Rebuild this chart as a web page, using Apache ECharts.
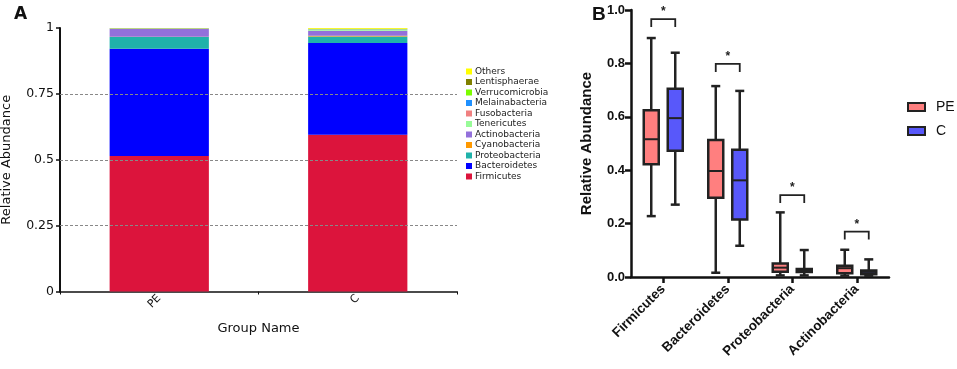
<!DOCTYPE html>
<html>
<head>
<meta charset="utf-8">
<script src="https://cdn.jsdelivr.net/npm/echarts@6/dist/echarts.min.js"></script>
<style>
  html, body { margin: 0; padding: 0; background: #fff; }
  #chart { width: 957px; height: 369px; }
</style>
</head>
<body>
<div id="chart"></div>
<script>
// ---- panel A: stacked relative abundance ----
var groups = ['PE', 'C'];
var phyla = ['Firmicutes', 'Bacteroidetes', 'Proteobacteria', 'Cyanobacteria', 'Actinobacteria',
  'Tenericutes', 'Fusobacteria', 'Melainabacteria', 'Verrucomicrobia', 'Lentisphaerae', 'Others'];
var phylaColors = ['#DC143C', '#0000FF', '#20B2AA', '#FF9900', '#9370DB',
  '#98FB98', '#F08080', '#1E90FF', '#7CFC00', '#808000', '#FFFF00'];
// rows follow phyla order, columns follow groups
var abundPE = [0.514, 0.407, 0.045, 0.001, 0.029, 0.001, 0.0005, 0.0005, 0.0005, 0.0005, 0.001];
var abundC = [0.595, 0.348, 0.025, 0.003, 0.019, 0.003, 0.001, 0.001, 0.001, 0.001, 0.003];
var gridLinesA = [0.25, 0.5, 0.75];

// ---- panel B: box plots ----
var boxCats = ['Firmicutes', 'Bacteroidetes', 'Proteobacteria', 'Actinobacteria'];
// [min, q1, median, q3, max]
var boxPE = [
  [0.228, 0.422, 0.516, 0.625, 0.895],
  [0.016, 0.297, 0.397, 0.513, 0.715],
  [0.006, 0.020, 0.035, 0.051, 0.242],
  [0.005, 0.014, 0.033, 0.042, 0.102]
];
var boxC = [
  [0.271, 0.473, 0.595, 0.705, 0.840],
  [0.117, 0.215, 0.362, 0.477, 0.697],
  [0.006, 0.019, 0.025, 0.030, 0.101],
  [0.004, 0.010, 0.019, 0.024, 0.066]
];
var sigLevel = [0.966, 0.798, 0.307, 0.170];
var sigMark = ['*', '*', '*', '*'];

var chart = echarts.init(document.getElementById('chart'));

var fontA = 'DejaVu Sans, Verdana, sans-serif';
var fontB = 'Liberation Sans, Arial, sans-serif';
var dark = '#222';
var OFF = 12;   // box offset from category centre, px
var BOXW = 15;  // box width, px
var CAPW = 9;   // whisker cap width, px

function boxRenderer(offset, fill) {
  return function (params, api) {
    var idx = api.value(0);
    var cx = api.coord([idx, 0])[0] + offset;
    var y = [1, 2, 3, 4, 5].map(function (d) { return api.coord([idx, api.value(d)])[1]; });
    var ls = { stroke: dark, lineWidth: 2.5 };
    return {
      type: 'group',
      children: [
        { type: 'line', shape: { x1: cx, y1: y[4], x2: cx, y2: y[0] }, style: ls },
        { type: 'line', shape: { x1: cx - CAPW / 2, y1: y[4], x2: cx + CAPW / 2, y2: y[4] }, style: ls },
        { type: 'line', shape: { x1: cx - CAPW / 2, y1: y[0], x2: cx + CAPW / 2, y2: y[0] }, style: ls },
        { type: 'rect', shape: { x: cx - BOXW / 2, y: y[3], width: BOXW, height: y[1] - y[3] },
          style: { fill: fill, stroke: dark, lineWidth: 2.5 } },
        { type: 'line', shape: { x1: cx - BOXW / 2, y1: y[2], x2: cx + BOXW / 2, y2: y[2] },
          style: { stroke: dark, lineWidth: 2 } }
      ]
    };
  };
}

function sigRenderer(params, api) {
  var idx = api.value(0);
  var cx = api.coord([idx, 0])[0];
  var y = api.coord([idx, api.value(1)])[1];
  var x1 = cx - OFF, x2 = cx + OFF;
  var ls = { stroke: dark, lineWidth: 1.8, fill: null };
  return {
    type: 'group',
    children: [
      { type: 'polyline', shape: { points: [[x1, y + 8], [x1, y], [x2, y], [x2, y + 8]] }, style: ls },
      { type: 'text', style: { text: sigMark[idx], x: cx, y: y - 7, align: 'center', verticalAlign: 'middle',
        font: 'bold 12px ' + fontB, fill: dark } }
    ]
  };
}

var series = [];
// dashed reference lines under the bars
series.push({
  type: 'line', xAxisIndex: 0, yAxisIndex: 0, data: [], z: 1, silent: true,
  markLine: {
    silent: true, symbol: 'none', label: { show: false },
    lineStyle: { color: '#888', type: [3, 2], width: 1 },
    data: gridLinesA.map(function (v) { return { yAxis: v }; })
  }
});
phyla.forEach(function (name, i) {
  series.push({
    name: name, type: 'bar', stack: 'abund', xAxisIndex: 0, yAxisIndex: 0,
    barWidth: '50%', z: 2,
    itemStyle: { color: phylaColors[i] },
    data: [abundPE[i], abundC[i]]
  });
});
series.push({
  name: 'PE', type: 'custom', xAxisIndex: 1, yAxisIndex: 1,
  itemStyle: { color: '#FF7F7F', borderColor: dark, borderWidth: 2 },
  renderItem: boxRenderer(-OFF, '#FF7F7F'),
  encode: { x: 0, y: [1, 2, 3, 4, 5] },
  data: boxPE.map(function (b, i) { return [i].concat(b); })
});
series.push({
  name: 'C', type: 'custom', xAxisIndex: 1, yAxisIndex: 1,
  itemStyle: { color: '#5858FA', borderColor: dark, borderWidth: 2 },
  renderItem: boxRenderer(OFF, '#5858FA'),
  encode: { x: 0, y: [1, 2, 3, 4, 5] },
  data: boxC.map(function (b, i) { return [i].concat(b); })
});
series.push({
  type: 'custom', xAxisIndex: 1, yAxisIndex: 1, silent: true,
  renderItem: sigRenderer,
  encode: { x: 0, y: 1 },
  data: sigLevel.map(function (v, i) { return [i, v]; })
});

chart.setOption({
  animation: false,
  title: [
    { text: 'A', left: 9, top: 1, textStyle: { fontFamily: fontA, fontWeight: 'bold', fontSize: 17, color: '#111' } },
    { text: 'B', left: 587, top: 0, textStyle: { fontFamily: fontB, fontWeight: 'bold', fontSize: 19, color: '#111' } }
  ],
  legend: [
    {
      orient: 'vertical', left: 461, top: 62,
      data: phyla.slice().reverse(),
      icon: 'rect', itemWidth: 6, itemHeight: 6, itemGap: 1.5,
      textStyle: { fontFamily: fontA, fontSize: 9, lineHeight: 9, color: '#222', padding: [0, 0, 0, -2] },
      selectedMode: false
    },
    {
      orient: 'vertical', left: 902, top: 94,
      data: [
        { name: 'PE', itemStyle: { color: '#FF7F7F', borderColor: dark, borderWidth: 2 } },
        { name: 'C', itemStyle: { color: '#5858FA', borderColor: dark, borderWidth: 2 } }
      ],
      icon: 'rect', itemWidth: 17, itemHeight: 8, itemGap: 8,
      textStyle: { fontFamily: fontB, fontSize: 14, lineHeight: 16, color: '#111', padding: [0, 0, 0, 6] },
      selectedMode: false
    }
  ],
  grid: [
    { left: 60, top: 28, width: 397, height: 263.5, outerBoundsMode: 'none' },
    { left: 631, top: 10, width: 258, height: 267, outerBoundsMode: 'none' }
  ],
  xAxis: [
    {
      gridIndex: 0, type: 'category', data: groups,
      name: 'Group Name', nameLocation: 'middle', nameGap: 31,
      nameTextStyle: { fontFamily: fontA, fontSize: 13, color: '#111' },
      axisLine: { lineStyle: { color: '#111', width: 1.5 } },
      axisTick: { show: true, length: 3, lineStyle: { color: '#111' } },
      axisLabel: { rotate: 45, margin: 5, fontFamily: fontA, fontSize: 11, color: '#111' }
    },
    {
      gridIndex: 1, type: 'category', data: boxCats,
      axisLine: { lineStyle: { color: '#111', width: 2.5 } },
      axisTick: { show: true, alignWithLabel: true, length: 6, lineStyle: { color: '#111', width: 2.5 } },
      axisLabel: { rotate: 45, margin: 10, fontFamily: fontB, fontWeight: 'bold', fontSize: 13.5, color: '#111' }
    }
  ],
  yAxis: [
    {
      gridIndex: 0, type: 'value', min: 0, max: 1, interval: 0.25,
      name: 'Relative Abundance', nameLocation: 'middle', nameGap: 47,
      nameTextStyle: { fontFamily: fontA, fontSize: 13, color: '#111' },
      axisLine: { show: true, lineStyle: { color: '#111', width: 2 } },
      axisTick: { show: true, length: 4, lineStyle: { color: '#111', width: 1.5 } },
      axisLabel: { margin: 6, fontFamily: fontA, fontSize: 12.5, color: '#111' },
      splitLine: { show: false }
    },
    {
      gridIndex: 1, type: 'value', min: 0, max: 1, interval: 0.2,
      name: 'Relative Abundance', nameLocation: 'middle', nameGap: 37,
      nameTextStyle: { fontFamily: fontB, fontWeight: 'bold', fontSize: 15, color: '#111' },
      axisLine: { show: true, lineStyle: { color: '#111', width: 2.5 } },
      axisTick: { show: true, length: 6, lineStyle: { color: '#111', width: 2.5 } },
      axisLabel: {
        margin: 6, fontFamily: fontB, fontWeight: 'bold', fontSize: 13, color: '#111',
        formatter: function (v) { return v.toFixed(1); }
      },
      splitLine: { show: false }
    }
  ],
  series: series
});
</script>
</body>
</html>
